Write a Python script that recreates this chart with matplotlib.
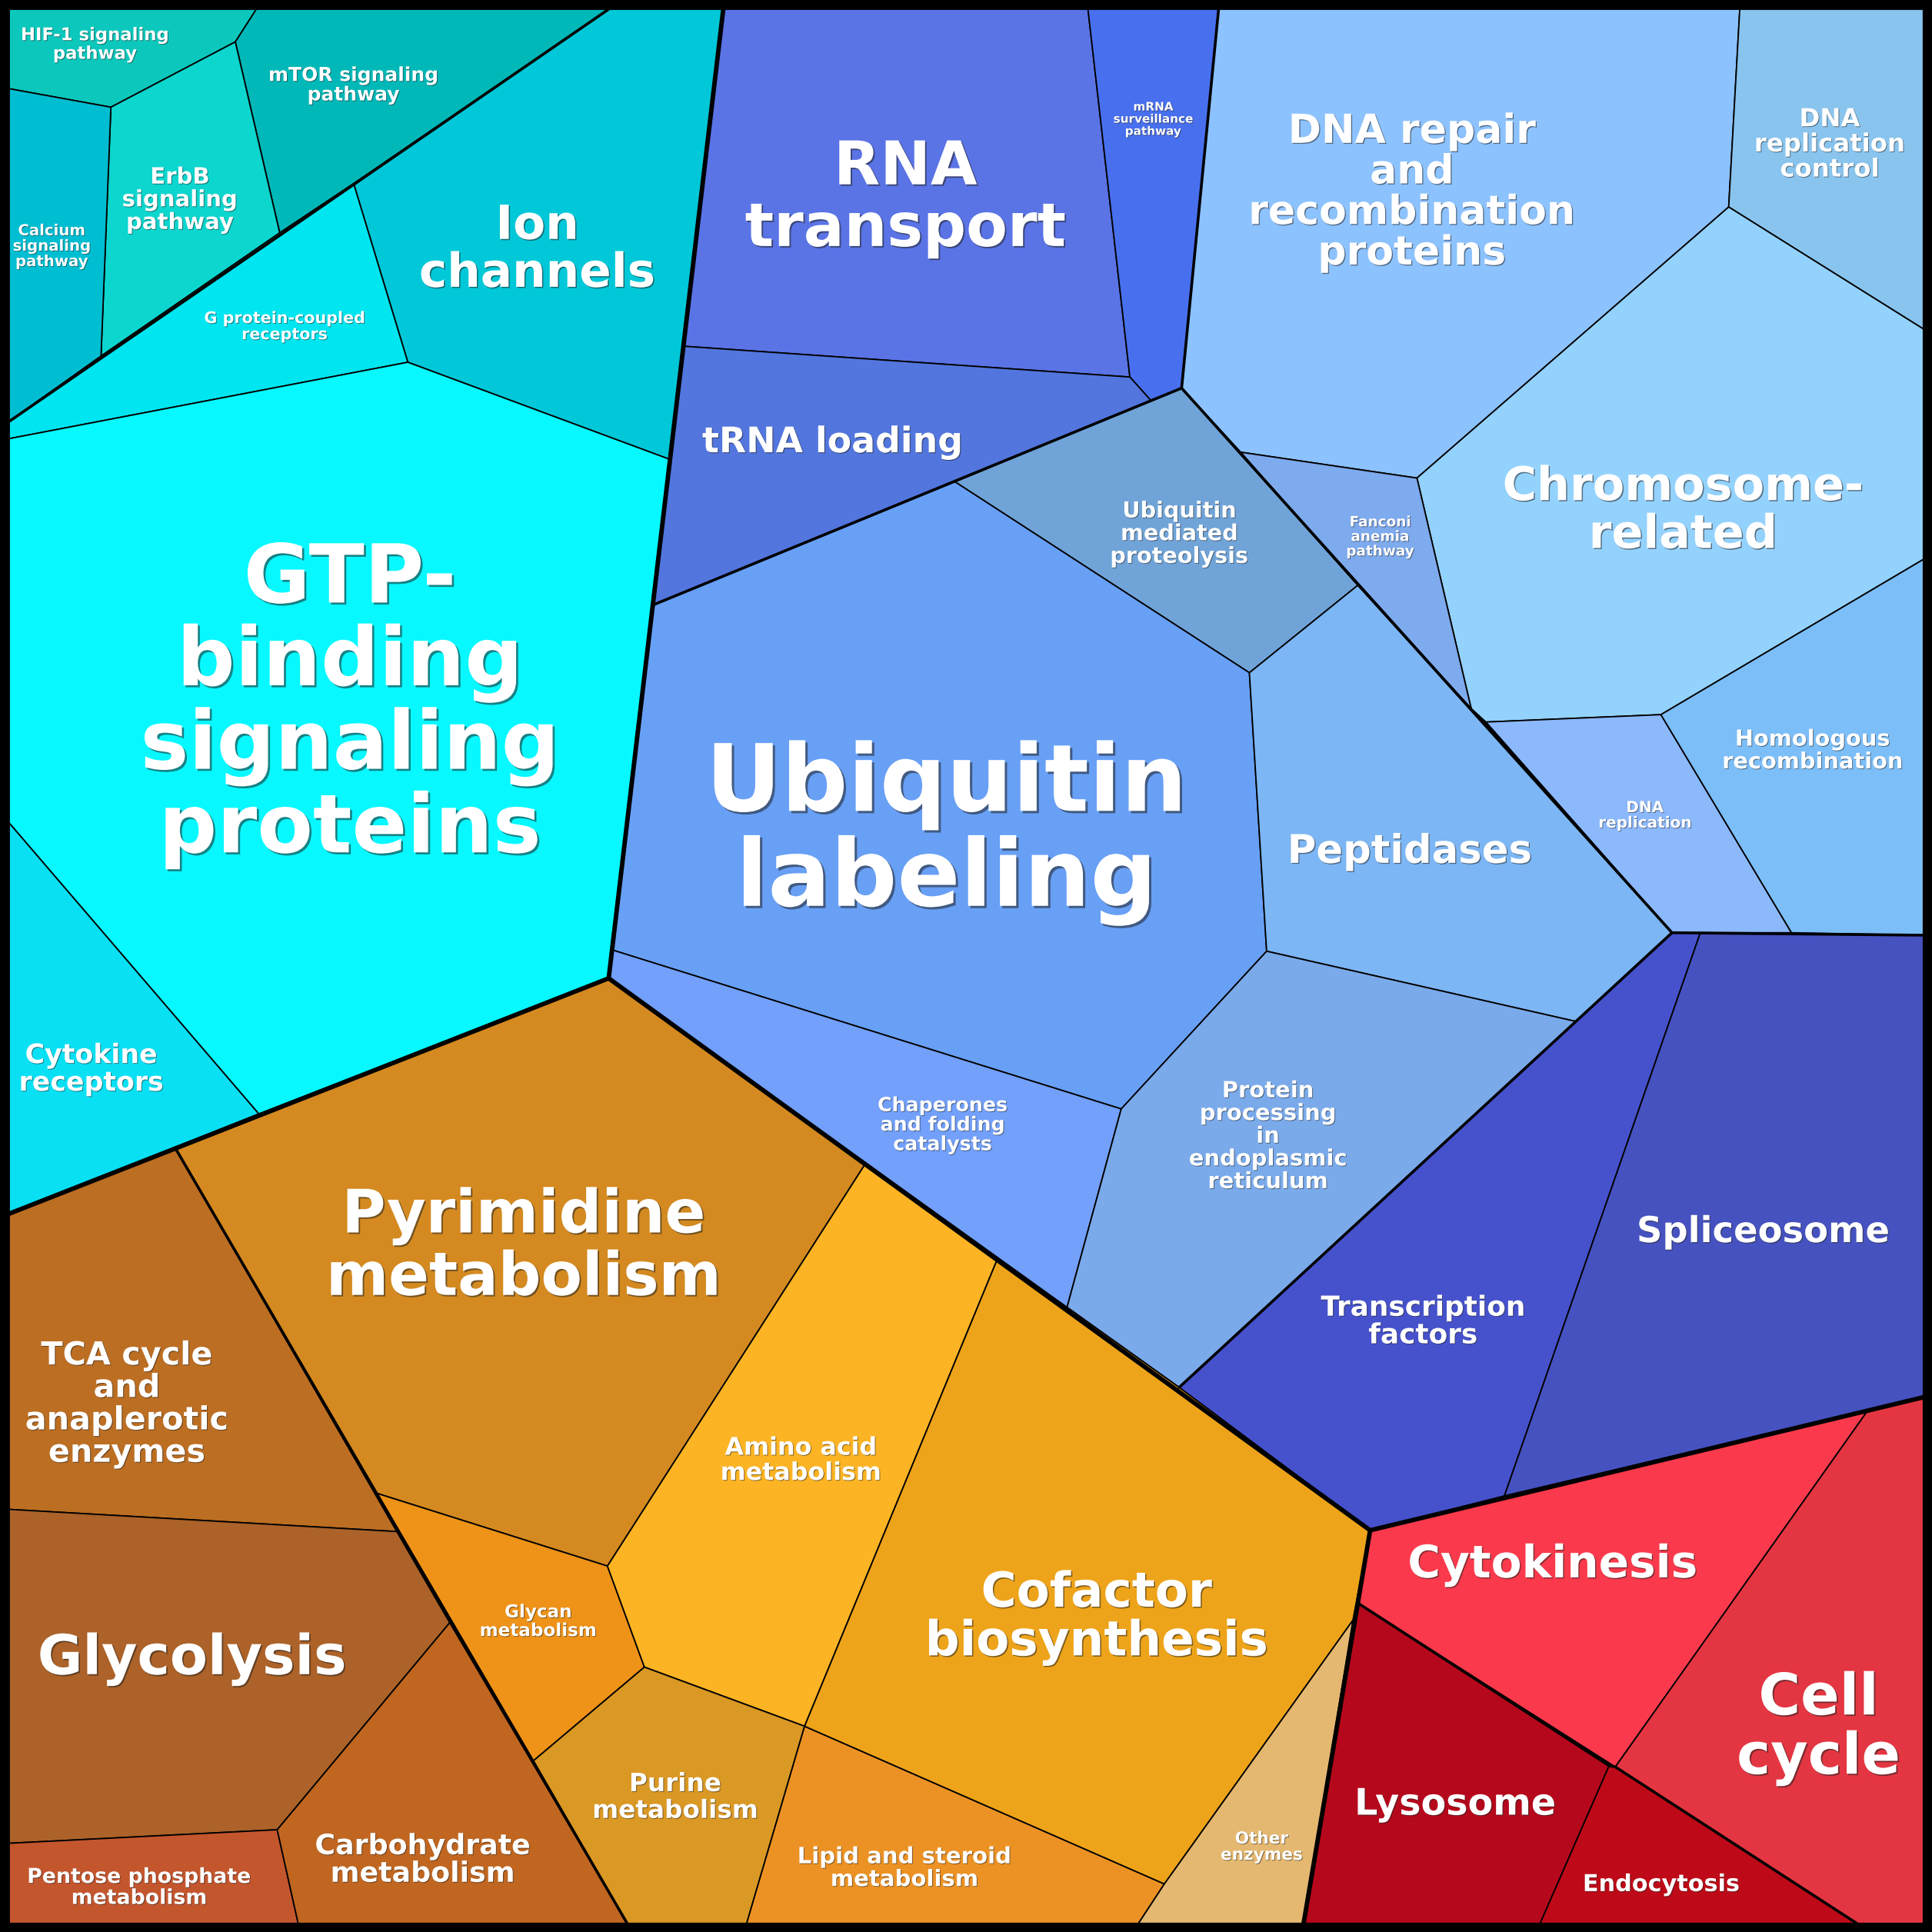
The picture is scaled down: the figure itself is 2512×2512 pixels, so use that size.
#!/usr/bin/env python3
# Voronoi treemap of pathway categories, redrawn from picture coordinates.
# Coordinates are on a 1568 px grid (y down).

import matplotlib
matplotlib.use('Agg')
import matplotlib.pyplot as plt
from matplotlib.patches import Polygon
import matplotlib.patheffects as pe

G = 1568
L, R = 7.5, 1561

# ---- leaf cells: name, colour, outline ----
cell_names = [
    "HIF-1", "mTOR", "ErbB", "Calcium", "Ion", "GPCR", "GTP", "Cytokine",
    "RNA", "mRNA", "tRNA", "UbMed", "UbLab", "Pept", "Chap", "ER",
    "DNArep", "DNActl", "Chrom", "Fanconi", "DNArepl", "Homol", "TF", "Splice",
    "TCA", "Glyco", "Pentose", "Carb", "Pyr", "Glycan", "Amino", "Purine",
    "Lipid", "Cofactor", "Other",
    "Cytok", "CellC", "Lyso", "Endo",
]
cell_colors = [
    "#0cc8bc", "#00b8b8", "#0cd6ce", "#00bed2", "#00c8d8", "#00e6f0", "#08f8ff", "#0ae0f4",
    "#5a74e6", "#4870ee", "#5276de", "#70a4d8", "#68a0f6", "#7cb6f4", "#72a0fa", "#7aaaea",
    "#8cc2fe", "#88c4ee", "#94d2fe", "#7eaaee", "#8cb8fc", "#7cbef8", "#4652cc", "#4652c0",
    "#bc6e22", "#ac6228", "#c4562e", "#c06620", "#d48a20", "#ee9218", "#fcb424", "#da9824",
    "#ec9224", "#eea41a", "#e4b870",
    "#fa3a4c", "#e43642", "#b6081c", "#be0a18",
]
cell_polys = [
    [(L, L), (208, L), (191, 34), (90, 87), (L, 72)],
    [(208, L), (494, L), (287, 149), (227, 189), (191, 34)],
    [(191, 34), (227, 189), (82, 289), (90, 87)],
    [(L, 72), (90, 87), (82, 289), (L, 342)],
    [(494, L), (587, L), (544, 373), (331, 294), (287, 149)],
    [(287, 149), (331, 294), (L, 356), (L, 342), (82, 289), (227, 189)],
    [(L, 356), (331, 294), (544, 373), (530, 491), (497, 771), (494, 794), (210, 904), (L, 668)],
    [(L, 668), (210, 904), (L, 985)],
    [(587, L), (883, L), (917, 306), (555, 281)],
    [(883, L), (989, L), (959, 315), (934, 325), (917, 306)],
    [(555, 281), (917, 306), (934, 325), (775, 391), (530, 491)],
    [(775, 391), (959, 315), (1102, 475), (1014, 546)],
    [(530, 491), (775, 391), (1014, 546), (1028, 772), (910, 900), (497, 771)],
    [(1014, 546), (1102, 475), (1357, 757), (1279, 829), (1028, 772)],
    [(497, 771), (910, 900), (866, 1061), (494, 794)],
    [(910, 900), (1028, 772), (1279, 829), (957, 1126), (866, 1061)],
    [(989, L), (1412, L), (1403, 168), (1150, 388), (1007, 367), (959, 315)],
    [(1412, L), (R, L), (R, 267), (1403, 168)],
    [(1403, 168), (R, 267), (R, 454), (1348, 580), (1206, 586), (1194, 575), (1150, 388)],
    [(1007, 367), (1150, 388), (1194, 575), (1102, 475)],
    [(1206, 586), (1348, 580), (1454, 757), (1357, 757)],
    [(1348, 580), (R, 454), (R, 759), (1454, 757)],
    [(1357, 757), (1380, 757), (1221, 1214), (1112, 1242), (957, 1126), (1279, 829)],
    [(1380, 757), (R, 759), (R, 1134), (1221, 1214)],
    [(L, 985), (143, 933), (322, 1243), (L, 1225)],
    [(L, 1225), (322, 1243), (365, 1317), (225, 1485), (L, 1496)],
    [(L, 1496), (225, 1485), (242, R), (L, R)],
    [(225, 1485), (365, 1317), (509, R), (242, R)],
    [(143, 933), (494, 794), (702, 945), (493, 1271), (306, 1212)],
    [(306, 1212), (493, 1271), (523, 1353), (433, 1429)],
    [(702, 945), (809, 1023), (653, 1401), (523, 1353), (493, 1271)],
    [(433, 1429), (523, 1353), (653, 1401), (606, R), (509, R)],
    [(653, 1401), (945, 1529), (924, R), (606, R)],
    [(809, 1023), (866, 1061), (957, 1126), (1112, 1242), (1098, 1315), (945, 1529), (653, 1401)],
    [(1098, 1315), (1058, R), (924, R), (945, 1529)],
    [(1112, 1242), (1515, 1146), (1311, 1434), (1102, 1301)],
    [(1515, 1146), (R, 1134), (R, R), (1507, R), (1311, 1434)],
    [(1102, 1301), (1306, 1433), (1250, R), (1058, R)],
    [(1306, 1433), (1311, 1434), (1507, R), (1250, R)],
]

# ---- borders between groups ----
sub_borders = [
    [(494, L), (L, 342)],
    [(530, 491), (959, 315)],
    [(989, L), (959, 315), (1357, 757), (R, 759)],
    [(1357, 757), (1279, 829), (957, 1126)],
    [(143, 933), (509, R)],
    [(1102, 1301), (1306, 1433), (1311, 1434), (1507, R)],
]
top_borders = [
    [(587, L), (494, 794), (L, 985)],
    [(494, 794), (1112, 1242), (R, 1134)],
    [(1112, 1242), (1058, R)],
]

# ---- labels: text, centre, em size (px on the 1568 grid) ----
label_text = [
    "HIF-1 signaling\npathway", "mTOR signaling\npathway", "ErbB\nsignaling\npathway",
    "Calcium\nsignaling\npathway", "Ion\nchannels", "G protein-coupled\nreceptors",
    "GTP-\nbinding\nsignaling\nproteins", "Cytokine\nreceptors",
    "RNA\ntransport", "mRNA\nsurveillance\npathway", "tRNA loading",
    "Ubiquitin\nmediated\nproteolysis", "Ubiquitin\nlabeling", "Peptidases",
    "Chaperones\nand folding\ncatalysts", "Protein\nprocessing\nin\nendoplasmic\nreticulum",
    "DNA repair\nand\nrecombination\nproteins", "DNA\nreplication\ncontrol",
    "Chromosome-\nrelated", "Fanconi\nanemia\npathway", "DNA\nreplication",
    "Homologous\nrecombination", "Transcription\nfactors", "Spliceosome",
    "TCA cycle\nand\nanaplerotic\nenzymes", "Glycolysis", "Pentose phosphate\nmetabolism",
    "Carbohydrate\nmetabolism", "Pyrimidine\nmetabolism", "Glycan\nmetabolism",
    "Amino acid\nmetabolism", "Purine\nmetabolism", "Lipid and steroid\nmetabolism",
    "Cofactor\nbiosynthesis", "Other\nenzymes",
    "Cytokinesis", "Cell\ncycle", "Lysosome", "Endocytosis",
]
label_xy = [
    (77, 35), (287, 68), (146, 161), (42, 199), (436, 200), (231, 264), (284, 567), (74, 866),
    (735, 157), (936, 96), (676, 357), (957, 432), (768, 670), (1144, 689), (765, 912),
    (1029, 921), (1146, 154), (1485, 116), (1366, 412), (1120, 435), (1335, 661),
    (1471, 608), (1155, 1071), (1431, 998),
    (103, 1138), (156, 1343), (113, 1531), (343, 1508), (425, 1008), (437, 1315),
    (650, 1184), (548, 1457), (734, 1515), (890, 1310), (1024, 1498),
    (1260, 1267), (1476, 1399), (1181, 1462), (1348, 1528),
]
label_em = [
    14.2, 15.6, 18.2, 12.3, 38.2, 12.9, 66, 21.7,
    48.9, 9.5, 28.6, 17.9, 75.5, 32, 15.8, 18.1,
    32.5, 20.2, 37.7, 11.5, 12.5, 18.0, 22.4, 29,
    25.8, 44.6, 16.7, 22.7, 48.6, 14.4, 19.8, 20.4, 18.2, 39.2, 13.5,
    36.3, 46.5, 29.7, 18.9,
]

PX2PT = (2512 / G) * 72 / 100

fig = plt.figure(figsize=(25.12, 25.12), dpi=100, facecolor='black')
ax = fig.add_axes([0, 0, 1, 1])
ax.set_xlim(0, G)
ax.set_ylim(G, 0)
ax.set_facecolor('black')
ax.axis('off')

for poly, col in zip(cell_polys, cell_colors):
    ax.add_patch(Polygon(poly, closed=True, facecolor=col, edgecolor='black',
                         linewidth=1.3, joinstyle='round'))

for line in sub_borders:
    xs, ys = zip(*line)
    ax.plot(xs, ys, color='black', lw=2.6, solid_capstyle='round', solid_joinstyle='round')
for line in top_borders:
    xs, ys = zip(*line)
    ax.plot(xs, ys, color='black', lw=4.2, solid_capstyle='round', solid_joinstyle='round')

# black frame
ax.add_patch(plt.Rectangle((0, 0), G, G, fill=False, edgecolor='black', lw=11))

for txt, (x, y), em in zip(label_text, label_xy, label_em):
    fs = em * PX2PT
    off = max(0.7, fs * 0.025)
    ax.text(x, y + 0.08 * em, txt, ha='center', va='center', fontsize=fs,
            fontweight='bold', color='white', linespacing=1.07,
            family='DejaVu Sans',
            path_effects=[pe.withSimplePatchShadow(offset=(off, -off),
                                                   shadow_rgbFace='#222222', alpha=0.55)])

fig.savefig('out.png', dpi=100, facecolor='black')
